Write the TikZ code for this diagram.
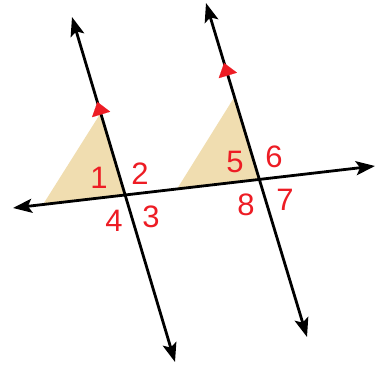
\documentclass[tikz,border=0pt]{standalone}
\usepackage{fontspec}
\setmainfont{Liberation Sans}
\usetikzlibrary{arrows.meta}
\definecolor{mred}{RGB}{237,28,36}
\definecolor{mtan}{RGB}{240,221,176}
\tikzset{
  ln/.style={line width=2.8pt, black, {Stealth[length=19pt,width=14pt,inset=4pt]}-{Stealth[length=19pt,width=14pt,inset=4pt]}},
  redmark/.style={mred, -{Triangle[length=13pt,width=19pt]}, line width=0.1pt},
  lbl/.style={text=mred, font=\fontsize{31}{32}\selectfont, inner sep=0pt}
}
\begin{document}
\begin{tikzpicture}[x=1pt,y=-1pt]
\useasboundingbox (0,0) rectangle (376,369);
% line end points
\coordinate (A) at (72,17);
\coordinate (B) at (175,362);
\coordinate (C) at (206,3);
\coordinate (D) at (307,337);
\coordinate (E) at (13,208);
\coordinate (F) at (375,166);
\coordinate (P) at (125.1,195.0);
\coordinate (Q) at (259.4,179.4);
% shaded triangles
\fill[mtan] (43,204.5) -- (100.7,113) -- (P) -- cycle;
\fill[mtan] (177,189.0) -- (234.4,97) -- (Q) -- cycle;
% lines
\draw[ln] (B) -- (A);
\draw[ln] (D) -- (C);
\draw[ln] (E) -- (F);
% parallel markers
\coordinate (m1s) at (101.3,115);
\coordinate (m1t) at (97.4,102);
\coordinate (m2s) at (228.0,76);
\coordinate (m2t) at (224.1,63);
\draw[redmark] (m1s) -- (m1t);
\draw[redmark] (m2s) -- (m2t);
% labels
\node[lbl] (n1) at (99,178) {1};
\node[lbl] (n2) at (140,174) {2};
\node[lbl] (n4) at (114,221) {4};
\node[lbl] (n3) at (151,217) {3};
\node[lbl] (n5) at (235,162) {5};
\node[lbl] (n6) at (274,157) {6};
\node[lbl] (n8) at (246,205) {8};
\node[lbl] (n7) at (285,200) {7};
\end{tikzpicture}
\end{document}
